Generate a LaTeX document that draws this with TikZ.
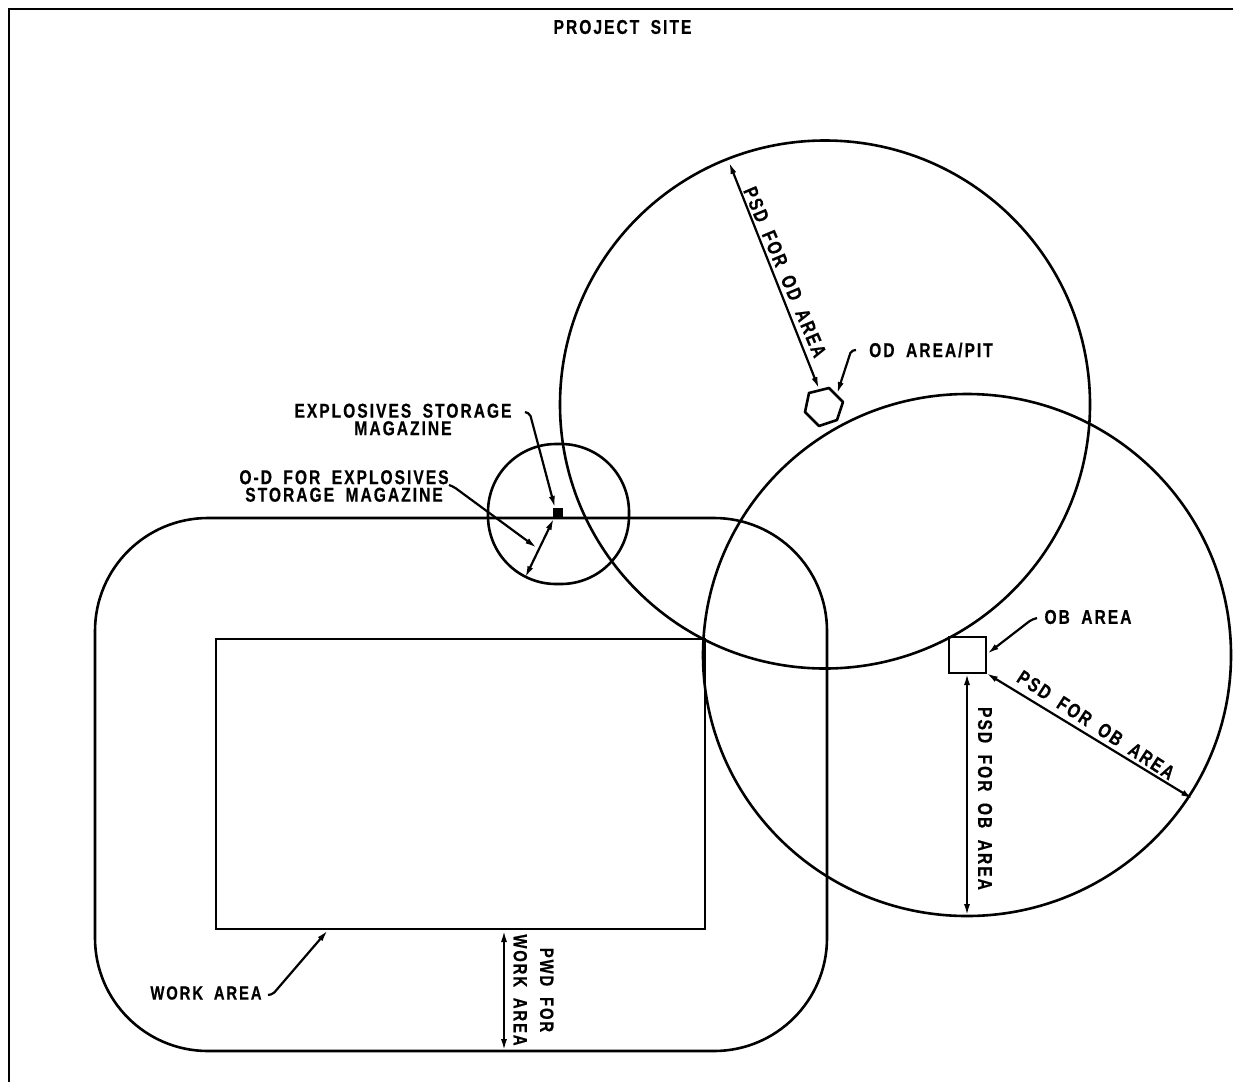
\documentclass[tikz,border=0pt]{standalone}
\usepackage{fontspec}
\setmainfont[LetterSpace=10,FakeStretch=0.78,WordSpace=1.8,FakeBold=0.5]{Liberation Sans}
\usetikzlibrary{arrows.meta,shapes.geometric}
\tikzset{
  lw/.style={line width=2.6pt},
  shapeline/.style={lw,draw=black,inner sep=0pt,outer sep=0pt},
  ring/.style={shapeline,ellipse},
  dim/.style={line width=2.2pt,{Latex[length=12pt,width=6pt]}-{Latex[length=12pt,width=6pt]}},
  leader/.style={line width=2.2pt,-{Latex[length=12pt,width=6pt]},rounded corners=2pt},
  lab/.style={inner sep=0pt,font=\bfseries\fontsize{20}{17.5}\selectfont,align=center},
  smalllab/.style={lab,font=\bfseries\fontsize{19}{17.5}\selectfont},
}
\begin{document}
\begin{tikzpicture}[x=1pt,y=-1pt]
\useasboundingbox (0,0) rectangle (1233,1082);
% frame
\coordinate (fa) at (9,1082);
\coordinate (fb) at (9,9);
\coordinate (fc) at (1233,9);
\draw[lw] (fa) -- (fb) -- (fc);
% areas
\node[ring,minimum width=530pt,minimum height=528pt] (od) at (825,404.5) {};
\node[ring,minimum width=528pt,minimum height=522pt] (ob) at (967,655) {};
\node[shapeline,rounded corners=68pt,minimum width=141pt,minimum height=140pt] (mag) at (558.5,514) {};
\node[shapeline,rounded corners=113pt,minimum width=732pt,minimum height=533pt] (pwd) at (461,784.5) {};
\node[shapeline,minimum width=489pt,minimum height=290pt] (work) at (460.5,784) {};
\node[shapeline,minimum width=37pt,minimum height=36pt] (obsq) at (967.5,655) {};
\node[draw=black,fill=black,inner sep=0pt,minimum size=9pt] (stor) at (558,513) {};
\draw[lw,join=round] (809,393) coordinate (h1) -- (829,388) coordinate (h2) -- (843,402) coordinate (h3) -- (837,420) coordinate (h4) -- (819,426) coordinate (h5) -- (805,412) coordinate (h6) -- cycle;
% free ends
\coordinate (odtop) at (729,162);
\coordinate (odpit) at (819,389);
\coordinate (odl0) at (856,350);
\coordinate (odl1) at (851,351);
\coordinate (odl2) at (837,394);
\coordinate (obl0) at (1037,618);
\coordinate (obl1) at (1031,620);
\coordinate (obl2) at (987,654);
\coordinate (obc) at (986,673);
\coordinate (obe) at (1193,799);
\coordinate (obv) at (967,673);
\coordinate (obb) at (967,916);
\coordinate (exl0) at (525,412);
\coordinate (exl1) at (530,414);
\coordinate (exl2) at (555,508);
\coordinate (odl) at (449,485);
\coordinate (odm) at (454,487);
\coordinate (ode) at (537,548);
\coordinate (mgs) at (554,518);
\coordinate (mge) at (525,578);
\coordinate (wl0) at (268,995);
\coordinate (wl1) at (273,994);
\coordinate (wl2) at (328,930);
\coordinate (pw1) at (504,930);
\coordinate (pw2) at (504,1051);
% connectors
\draw[dim] (odtop) -- (odpit);
\draw[leader] (odl0) -- (odl1) -- (odl2);
\draw[leader] (obl0) -- (obl1) -- (obl2);
\draw[dim] (obc) -- (obe);
\draw[dim] (obv) -- (obb);
\draw[leader] (exl0) -- (exl1) -- (exl2);
\draw[leader] (odl) -- (odm) -- (ode);
\draw[dim] (mgs) -- (mge);
\draw[leader] (wl0) -- (wl1) -- (wl2);
\draw[dim] (pw1) -- (pw2);
% labels
\node[lab] (t0) at (622.5,27) {PROJECT SITE};
\node[lab] (t1) at (403,419.5) {EXPLOSIVES STORAGE\\MAGAZINE};
\node[lab] (t2) at (344,486) {O-D FOR EXPLOSIVES\\STORAGE MAGAZINE};
\node[lab] (t3) at (931,350) {OD AREA/PIT};
\node[lab] (t4) at (1088,617) {OB AREA};
\node[smalllab] (t5) at (206,993) {WORK AREA};
\node[lab,rotate=-67] (t6) at (785,272) {PSD FOR OD AREA};
\node[lab,rotate=-90] (t7) at (985,798.5) {PSD FOR OB AREA};
\node[lab,rotate=-33] (t8) at (1096,725) {PSD FOR OB AREA};
\node[smalllab,rotate=-90] (t9) at (533.5,990) {PWD FOR\\[9pt]WORK AREA};
\end{tikzpicture}
\end{document}
